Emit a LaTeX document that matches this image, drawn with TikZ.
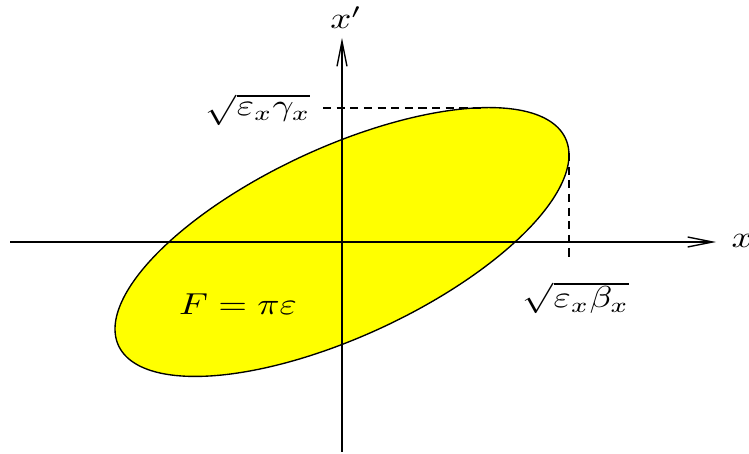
\documentclass[tikz,border=0pt]{standalone}
\usepackage{graphicx}
\usetikzlibrary{arrows.meta}
\definecolor{ellfill}{RGB}{255,255,0}
\newcommand{\wide}[1]{\scalebox{1.22}[1]{#1}}
\begin{document}
\begin{tikzpicture}[x=0.33pt,y=-0.33pt,
  axis/.style={line width=0.45pt,-{Straight Barb[length=8.2pt,width=3.3pt,line width=0.45pt]}},
  guide/.style={line width=0.45pt,dash pattern=on 2.7pt off 1.8pt},
  lbl/.style={inner sep=0pt}]
\useasboundingbox (0,0) rectangle (749,454);
% ellipse
\filldraw[fill=ellfill,draw=black,line width=0.45pt]
  plot[domain=0:360,samples=240] ({342+227*cos(\x)},{242-87*cos(\x)-102.5*sin(\x)}) -- cycle;
% coordinates
\coordinate (xl) at (10,242);
\coordinate (xr) at (716,242);
\coordinate (yb) at (342,452);
\coordinate (yt) at (342,38);
\coordinate (gtop) at (484,108);
\coordinate (bright) at (569,153);
\coordinate (bdown) at (569,262);
% labels
\node[lbl,anchor=base west] (lx) at (731,248) {\wide{$x$}};
\node[lbl,anchor=base] (ly) at (346,29) {\wide{$x'$}};
\node[lbl,anchor=east] (lg) at (311,110) {\wide{$\sqrt{\varepsilon_x\gamma_x}$}};
\node[lbl] (lb) at (576,298) {\wide{$\sqrt{\varepsilon_x\beta_x}$}};
\node[lbl,anchor=base] (lF) at (238,315) {\wide{$F=\pi\varepsilon$}};
% axes
\draw[axis] (xl) -- (xr);
\draw[axis] (yb) -- (yt);
% guides
\draw[guide] (lg.east |- gtop) ++(12,0) coordinate (gstart) -- (gtop);
\draw[guide] (bright) -- (bdown);
\end{tikzpicture}
\end{document}
